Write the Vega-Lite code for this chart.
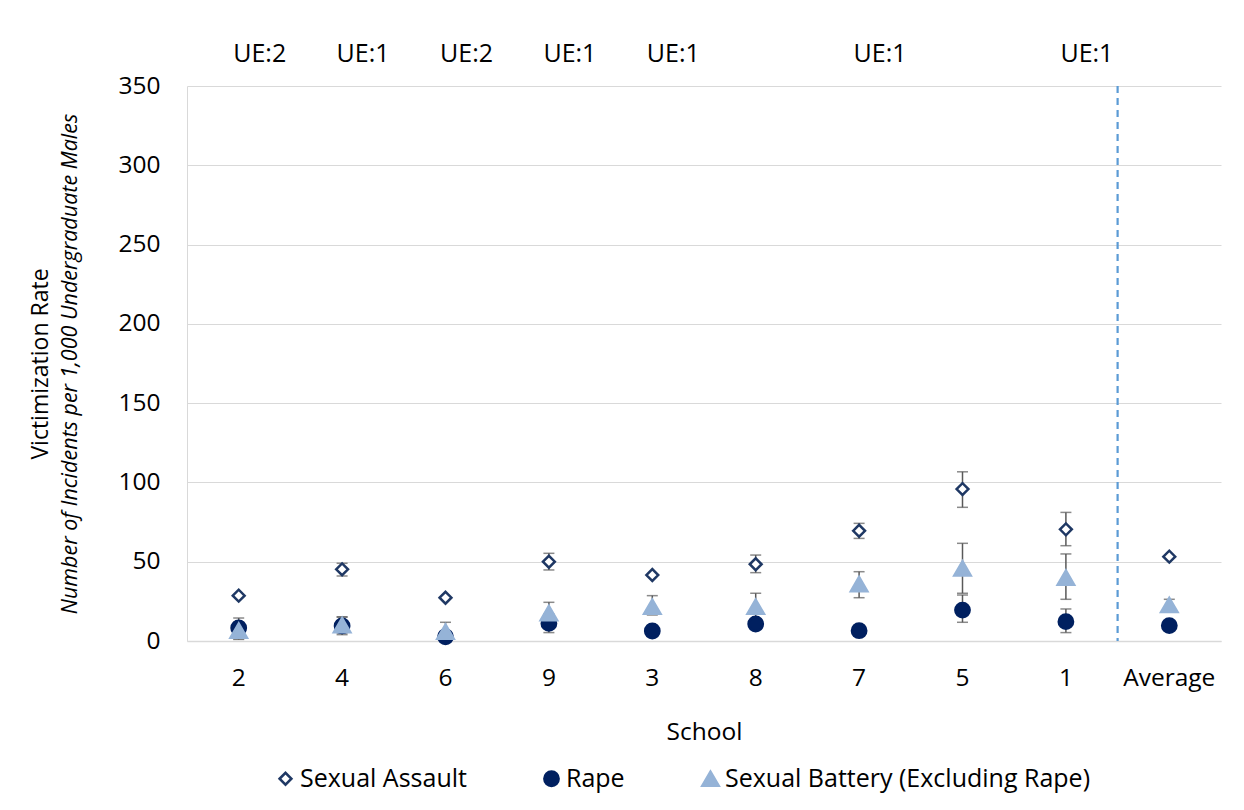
{
  "$schema": "https://vega.github.io/schema/vega-lite/v6.json",
  "width": 1034,
  "height": 555,
  "autosize": "none",
  "padding": {"left": 187, "top": 86, "right": 23, "bottom": 169},
  "background": "white",
  "config": {
    "font": "Open Sans",
    "view": {"stroke": null},
    "axisX": {"labelAngle": 0, "labelFontSize": 24.5, "titleFontSize": 24.5, "titleFontWeight": "normal", "ticks": false, "domainColor": "#d9d9d9", "domainWidth": 1.5, "labelPadding": 25, "titlePadding": 31, "labelColor": "black", "titleColor": "black", "grid": false},
    "legend": {"labelLimit": 0}
  },
  "datasets": {
    "main": [
      {"school": "2", "series": "Sexual Assault", "value": 28.6},
      {"school": "2", "series": "Rape", "value": 8.2, "lo": 1.5, "hi": 14.5},
      {"school": "2", "series": "Sexual Battery (Excluding Rape)", "value": 6.5, "lo": 1, "hi": 12},
      {"school": "4", "series": "Sexual Assault", "value": 45.2, "lo": 41, "hi": 49},
      {"school": "4", "series": "Rape", "value": 9.5, "lo": 4, "hi": 15.3},
      {"school": "4", "series": "Sexual Battery (Excluding Rape)", "value": 10, "lo": 5, "hi": 15},
      {"school": "6", "series": "Sexual Assault", "value": 27.3},
      {"school": "6", "series": "Rape", "value": 2.7, "lo": 0.5, "hi": 6},
      {"school": "6", "series": "Sexual Battery (Excluding Rape)", "value": 5.9, "lo": 1, "hi": 11.8},
      {"school": "9", "series": "Sexual Assault", "value": 50, "lo": 44.8, "hi": 55.3},
      {"school": "9", "series": "Rape", "value": 11.1, "lo": 5.3, "hi": 17},
      {"school": "9", "series": "Sexual Battery (Excluding Rape)", "value": 17.6, "lo": 11, "hi": 24.4},
      {"school": "3", "series": "Sexual Assault", "value": 41.6},
      {"school": "3", "series": "Rape", "value": 6.3, "lo": 3, "hi": 10},
      {"school": "3", "series": "Sexual Battery (Excluding Rape)", "value": 21.6, "lo": 16.4, "hi": 28.6},
      {"school": "8", "series": "Sexual Assault", "value": 48.4, "lo": 43.1, "hi": 54.2},
      {"school": "8", "series": "Rape", "value": 10.7, "lo": 8, "hi": 13},
      {"school": "8", "series": "Sexual Battery (Excluding Rape)", "value": 21.6, "lo": 13, "hi": 30.1},
      {"school": "7", "series": "Sexual Assault", "value": 69.5, "lo": 64.7, "hi": 74.2},
      {"school": "7", "series": "Rape", "value": 6.5, "lo": 3, "hi": 10},
      {"school": "7", "series": "Sexual Battery (Excluding Rape)", "value": 35.9, "lo": 27.3, "hi": 43.7},
      {"school": "5", "series": "Sexual Assault", "value": 95.8, "lo": 84.3, "hi": 106.7},
      {"school": "5", "series": "Rape", "value": 19.5, "lo": 11.8, "hi": 29},
      {"school": "5", "series": "Sexual Battery (Excluding Rape)", "value": 45.8, "lo": 30.1, "hi": 61.6},
      {"school": "1", "series": "Sexual Assault", "value": 70.4, "lo": 60.1, "hi": 81.1},
      {"school": "1", "series": "Rape", "value": 12.2, "lo": 5.3, "hi": 20.2},
      {"school": "1", "series": "Sexual Battery (Excluding Rape)", "value": 39.9, "lo": 26.3, "hi": 54.9},
      {"school": "Average", "series": "Sexual Assault", "value": 53.2},
      {"school": "Average", "series": "Rape", "value": 9.7},
      {"school": "Average", "series": "Sexual Battery (Excluding Rape)", "value": 22.7, "lo": 19, "hi": 26.3}
    ],
    "ue": [
      {"school": "2", "label": "UE:2"},
      {"school": "4", "label": "UE:1"},
      {"school": "6", "label": "UE:2"},
      {"school": "9", "label": "UE:1"},
      {"school": "3", "label": "UE:1"},
      {"school": "7", "label": "UE:1"},
      {"school": "1", "label": "UE:1"}
    ]
  },
  "resolve": {"axis": {"y": "independent"}},
  "layer": [
    {
      "data": {"values": [{}]},
      "mark": {"type": "rule", "strokeDash": [7, 5], "color": "#5B9BD5", "strokeWidth": 2.2},
      "encoding": {"x": {"datum": "Average", "type": "nominal", "bandPosition": 0, "title": "School"}}
    },
    {
      "data": {"name": "main"},
      "transform": [{"filter": "isValid(datum.lo)"}],
      "mark": {"type": "errorbar", "ticks": {"size": 11}, "color": "#595959", "thickness": 1.5},
      "encoding": {
        "x": {"field": "school", "type": "nominal", "title": "School"},
        "y": {"field": "lo", "type": "quantitative", "axis": null},
        "y2": {"field": "hi"}
      }
    },
    {
      "data": {"name": "main"},
      "mark": {"type": "point", "strokeWidth": 2.5, "opacity": 1},
      "encoding": {
        "x": {
          "field": "school", "type": "nominal", "sort": null, "title": "School",
          "scale": {"type": "band", "domain": ["2", "4", "6", "9", "3", "8", "7", "5", "1", "Average"], "paddingInner": 0, "paddingOuter": 0}
        },
        "y": {
          "field": "value", "type": "quantitative",
          "scale": {"domain": [0, 350], "nice": false},
          "axis": {"orient": "left", "title": "Number of Incidents per 1,000 Undergraduate Males", "titleFontStyle": "italic", "titleFontSize": 21.5, "titleFontWeight": "normal", "titlePadding": 36, "labelFontSize": 24.5, "labelPadding": 27, "ticks": false, "domain": true, "domainColor": "#d9d9d9", "grid": true, "gridColor": "#d9d9d9", "values": [0, 50, 100, 150, 200, 250, 300, 350], "labelColor": "black", "titleColor": "black"}
        },
        "fill": {
          "field": "series", "type": "nominal",
          "scale": {"domain": ["Sexual Assault", "Rape", "Sexual Battery (Excluding Rape)"], "range": ["white", "#002060", "#95B3D7"]},
          "legend": {"title": null, "orient": "none", "legendX": 86, "legendY": 680, "direction": "horizontal", "labelFontSize": 25, "labelColor": "black", "columnPadding": 72, "symbolStrokeWidth": 2.5, "labelOffset": 2, "labelLimit": 0}
        },
        "stroke": {
          "field": "series", "type": "nominal",
          "scale": {"domain": ["Sexual Assault", "Rape", "Sexual Battery (Excluding Rape)"], "range": ["#1F3864", "#002060", "#95B3D7"]},
          "legend": {"title": null, "orient": "none", "legendX": 86, "legendY": 680, "direction": "horizontal", "labelFontSize": 25, "labelColor": "black", "columnPadding": 72, "symbolStrokeWidth": 2.5, "labelOffset": 2, "labelLimit": 0}
        },
        "shape": {
          "field": "series", "type": "nominal",
          "scale": {"domain": ["Sexual Assault", "Rape", "Sexual Battery (Excluding Rape)"], "range": ["diamond", "circle", "triangle-up"]},
          "legend": {"title": null, "orient": "none", "legendX": 86, "legendY": 680, "direction": "horizontal", "labelFontSize": 25, "labelColor": "black", "columnPadding": 72, "symbolStrokeWidth": 2.5, "labelOffset": 2, "labelLimit": 0}
        },
        "size": {
          "field": "series", "type": "nominal",
          "scale": {"domain": ["Sexual Assault", "Rape", "Sexual Battery (Excluding Rape)"], "range": [140, 270, 250]},
          "legend": {"title": null, "orient": "none", "legendX": 86, "legendY": 680, "direction": "horizontal", "labelFontSize": 25, "labelColor": "black", "columnPadding": 72, "symbolStrokeWidth": 2.5, "labelOffset": 2, "labelLimit": 0}
        }
      }
    },
    {
      "data": {"name": "ue"},
      "mark": {"type": "text", "fontSize": 25, "dx": 21, "color": "black", "baseline": "middle"},
      "encoding": {
        "x": {"field": "school", "type": "nominal", "title": "School"},
        "y": {
          "datum": 370, "type": "quantitative",
          "axis": {"orient": "left", "title": "Victimization Rate", "labels": false, "ticks": false, "domain": false, "grid": false, "titleFontSize": 23, "titleFontWeight": "normal", "titlePadding": 135, "titleColor": "black"}
        },
        "text": {"field": "label"}
      }
    }
  ]
}
